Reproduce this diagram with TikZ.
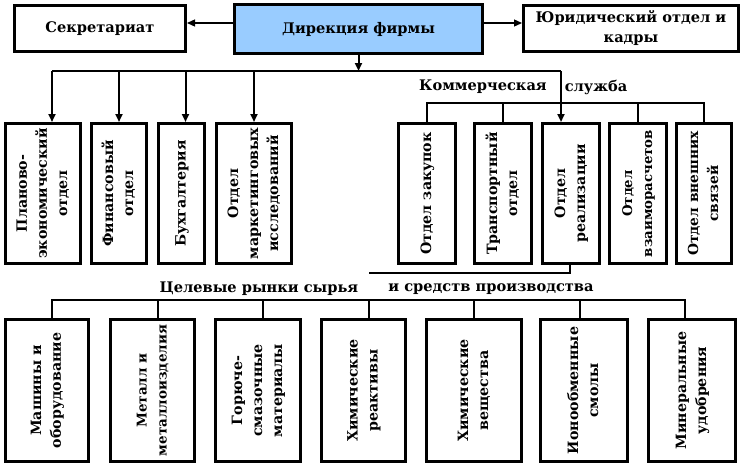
\documentclass[tikz,border=0pt]{standalone}
\usepackage{fontspec}
\setmainfont{DejaVu Serif}
\usetikzlibrary{arrows.meta}
\definecolor{dirblue}{RGB}{153,204,255}
\newcommand{\rt}[2][14.2]{\rotatebox{90}{\bfseries\fontsize{#1}{20}\selectfont\begin{tabular}{@{}c@{}}#2\end{tabular}}}
\begin{document}
\begin{tikzpicture}[x=1pt,y=-1pt,
  box/.style={draw,line width=3pt,inner sep=0pt,align=center},
  hd/.style={font=\bfseries\fontsize{14.6}{20}\selectfont,inner sep=0pt,align=center},
  arr/.style={line width=2pt,-{Triangle[length=8pt,width=7pt]}},
  sarr/.style={line width=1.3pt,-{Triangle[length=8pt,width=7pt]}},
  busl/.style={line width=2pt},
  thinl/.style={line width=1.1pt}]
\useasboundingbox (0,0) rectangle (747,467);
% top row
\node[box,minimum width=171,minimum height=46,hd] (sek) at (100,28.5) {Секретариат};
\node[box,fill=dirblue,minimum width=248,minimum height=49,hd] (dir) at (358.5,29) {Дирекция фирмы};
\node[box,minimum width=215,minimum height=46,hd] (yur) at (631,28.5) {\raisebox{-3pt}{\begin{tabular}{@{}c@{}}Юридический отдел и\\кадры\end{tabular}}};
\coordinate (ay) at (0,23);
\draw[sarr] (dir.west |- ay) -- (sek.east |- ay);
\draw[sarr] (dir.east |- ay) -- (yur.west |- ay);
% second row left
\node[box,minimum width=75,minimum height=140] (plan) at (43,193.5) {\rt{Планово-\\экономический\\отдел}};
\node[box,minimum width=55,minimum height=140] (fin) at (119,193.5) {\rt{Финансовый\\отдел}};
\node[box,minimum width=46,minimum height=140] (buh) at (181.5,193.5) {\rt{Бухгалтерия}};
\node[box,minimum width=75,minimum height=140] (mark) at (254,193.5) {\rt{Отдел\\маркетинговых\\исследований}};
% second row right
\node[box,minimum width=57,minimum height=140] (zak) at (427,193.5) {\rt{Отдел закупок}};
\node[box,minimum width=57,minimum height=140] (tra) at (503,193.5) {\rt{Транспортный\\отдел}};
\node[box,minimum width=57,minimum height=140] (real) at (571,193.5) {\rt{Отдел\\реализации}};
\node[box,minimum width=57,minimum height=140] (vza) at (638,193.5) {\rt[13.3]{Отдел\\взаиморасчетов}};
\node[box,minimum width=55,minimum height=140] (vne) at (704,193.5) {\rt[13.8]{Отдел внешних\\связей}};
% top bus
\coordinate (busL) at (52,71);
\coordinate (busR) at (561,71);
\draw[arr] (dir.south) -- (dir.south |- busL);
\draw[busl] (busL) -- (busR);
\draw[arr] (busR) -- (busR |- real.north);
\draw[arr] (busL) -- (busL |- plan.north);
\draw[arr] (fin.north |- busL) -- (fin.north);
\draw[arr] ([xshift=4pt]buh.north |- busL) -- ([xshift=4pt]buh.north);
\draw[arr] (mark.north |- busL) -- (mark.north);
% commercial service
\node[hd] (kom1) at (483,87) {Коммерческая};
\node[hd] (kom2) at (596,87) {служба};
\coordinate (kL) at (427,103);
\draw[thinl] (zak.north) -- (zak.north |- kL) -- (vne.north |- kL) -- (vne.north);
\draw[thinl] (tra.north) -- (tra.north |- kL);
\draw[thinl] (vza.north) -- (vza.north |- kL);
% link to target markets
\coordinate (rtc) at (369,273);
\draw[thinl] ([xshift=-1pt,yshift=2pt]real.south) |- (rtc);
\node[hd] (cel1) at (259,289) {Целевые рынки сырья};
\node[hd] (cel2) at (491,289) {и средств производства};
% bottom row
\node[box,minimum width=83,minimum height=142] (b1) at (47,390.5) {\rt{Машины и\\оборудование}};
\node[box,minimum width=84,minimum height=142] (b2) at (152.5,390.5) {\rt[13.5]{Металл и\\металлоизделия}};
\node[box,minimum width=85,minimum height=142] (b3) at (258,390.5) {\rt{Горюче-\\смазочные\\материалы}};
\node[box,minimum width=84,minimum height=142] (b4) at (363.5,390.5) {\rt{Химические\\реактивы}};
\node[box,minimum width=95,minimum height=142] (b5) at (474,390.5) {\rt{Химические\\вещества}};
\node[box,minimum width=87,minimum height=142] (b6) at (584,390.5) {\rt{Ионообменные\\смолы}};
\node[box,minimum width=87,minimum height=142] (b7) at (692,390.5) {\rt{Минеральные\\удобрения}};
\coordinate (bL) at (52,300);
\coordinate (bR) at (685,300);
\coordinate (d2) at (158,300);
\coordinate (d3) at (263,300);
\coordinate (d4) at (369,300);
\coordinate (d5) at (474,300);
\coordinate (d6) at (580,300);
\draw[thinl] (bL |- b1.north) -- (bL) -- (bR) -- (bR |- b7.north);
\draw[thinl] (d2) -- (d2 |- b2.north);
\draw[thinl] (d3) -- (d3 |- b3.north);
\draw[thinl] (d4) -- (d4 |- b4.north);
\draw[thinl] (d5) -- (d5 |- b5.north);
\draw[thinl] (d6) -- (d6 |- b6.north);
\end{tikzpicture}
\end{document}
